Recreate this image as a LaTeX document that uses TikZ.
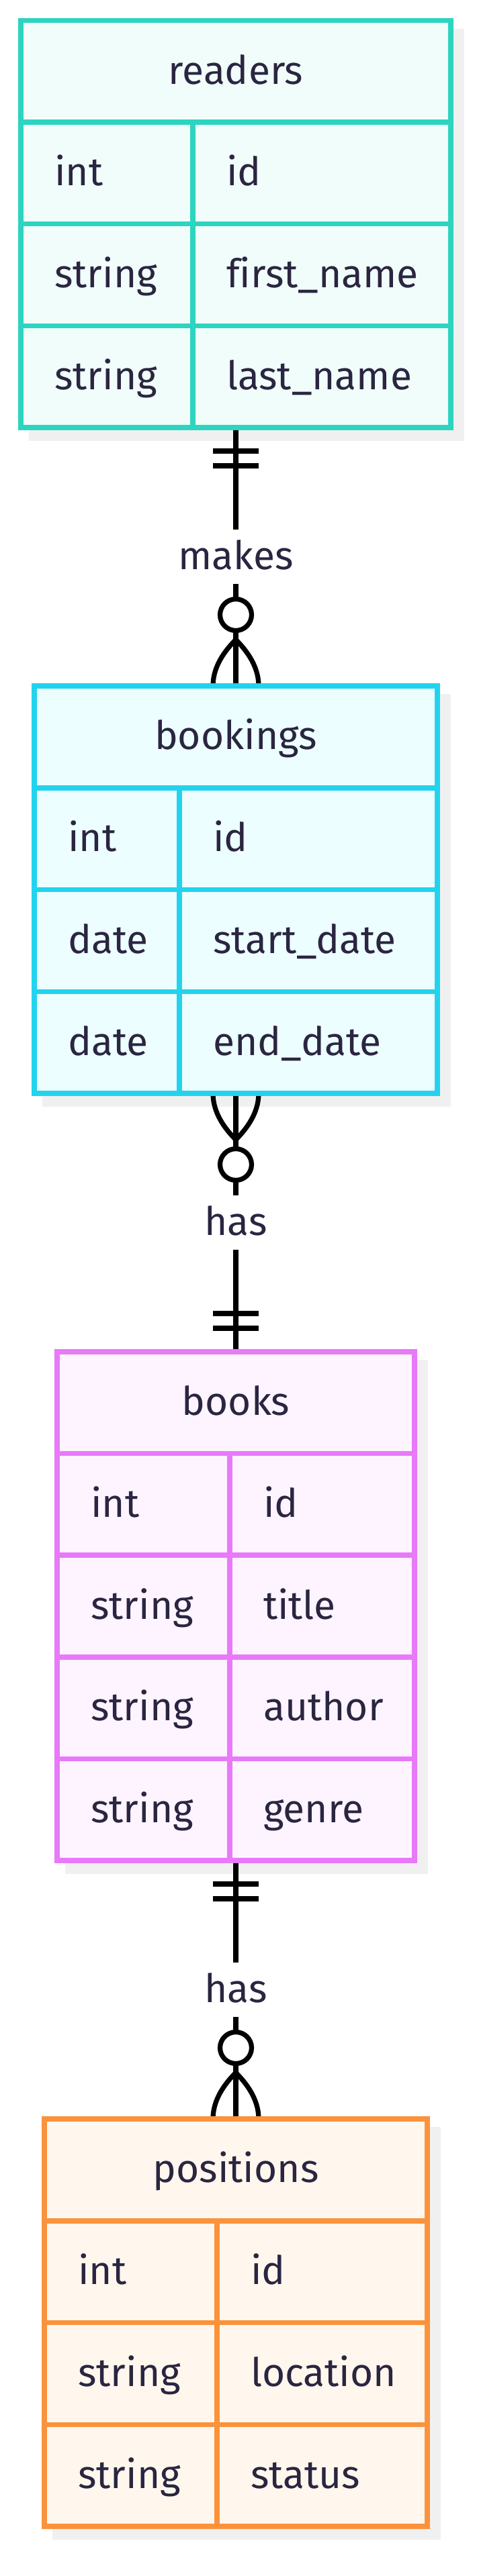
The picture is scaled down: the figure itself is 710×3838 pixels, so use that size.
\documentclass[tikz,border=0pt]{standalone}
\usepackage{fontspec}
\setmainfont[Ligatures=NoCommon]{Fira Sans}
\usetikzlibrary{calc}
\pgfdeclarelayer{bg}
\pgfsetlayers{bg,main}
\definecolor{txt}{HTML}{2A2540}
\definecolor{tealB}{HTML}{2DD4BF}
\definecolor{tealF}{HTML}{F0FDFA}
\definecolor{cyanB}{HTML}{22D3EE}
\definecolor{cyanF}{HTML}{ECFEFF}
\definecolor{fuchB}{HTML}{E879F9}
\definecolor{fuchF}{HTML}{FDF4FF}
\definecolor{oranB}{HTML}{FB923C}
\definecolor{oranF}{HTML}{FFF7ED}
\definecolor{shadowc}{HTML}{F0F0F0}
\newcommand{\erfont}{\fontsize{44pt}{52pt}\selectfont}
\begin{document}
\begin{tikzpicture}[x=0.75pt,y=-0.75pt,
  entity/.style={draw, rectangle, line width=5.6pt, inner sep=0pt, outer sep=0pt},
  grid/.style={line width=5.6pt},
  cell/.style={anchor=base west, inner sep=0pt, font=\erfont, text=txt},
  head/.style={anchor=base, inner sep=0pt, font=\erfont, text=txt},
  rel/.style={line width=5.4pt, black},
  lbl/.style={fill=white, inner sep=0pt, minimum height=60pt, minimum width=10pt, text height=28.5pt, text depth=0pt, font=\erfont, text=txt},
  shadow/.style={fill=shadowc}
]
\useasboundingbox (0,0) rectangle (710,3838);

% ---------- readers ----------
\node[entity, draw=tealB, fill=tealF, minimum width=480pt, minimum height=454.9pt] (readers) at (351,333.75) {};
\draw[grid, tealB] (31,182.1) -- (671,182.1) (31,333.75) -- (671,333.75) (31,485.4) -- (671,485.4) (287,182.1) -- (287,637);
\node[head] (rh) at (351,125.3) {readers};
\node[cell] (rt1) at (81,276.9) {int};
\node[cell] (rn1) at (337,276.9) {id};
\node[cell] (rt2) at (81,428.6) {string};
\node[cell] (rn2) at (337,428.6) {first\_name};
\node[cell] (rt3) at (81,580.2) {string};
\node[cell] (rn3) at (337,580.2) {last\_name};

% ---------- bookings ----------
\node[entity, draw=cyanB, fill=cyanF, minimum width=450pt, minimum height=455.25pt] (bookings) at (351,1325.5) {};
\draw[grid, cyanB] (51,1173.75) -- (651,1173.75) (51,1325.5) -- (651,1325.5) (51,1477.25) -- (651,1477.25) (267,1173.75) -- (267,1629);
\node[head] (bh) at (351,1116.9) {bookings};
\node[cell] (bt1) at (101,1268.6) {int};
\node[cell] (bn1) at (317,1268.6) {id};
\node[cell] (bt2) at (101,1420.4) {date};
\node[cell] (bn2) at (317,1420.4) {start\_date};
\node[cell] (bt3) at (101,1572.1) {date};
\node[cell] (bn3) at (317,1572.1) {end\_date};

% ---------- books ----------
\node[entity, draw=fuchB, fill=fuchF, minimum width=399pt, minimum height=568.5pt] (books) at (351,2393) {};
\draw[grid, fuchB] (85,2165.6) -- (617,2165.6) (85,2317.2) -- (617,2317.2) (85,2468.8) -- (617,2468.8) (85,2620.4) -- (617,2620.4) (342,2165.6) -- (342,2772);
\node[head] (kh) at (351,2108.8) {books};
\node[cell] (kt1) at (135,2260.4) {int};
\node[cell] (kn1) at (392,2260.4) {id};
\node[cell] (kt2) at (135,2412) {string};
\node[cell] (kn2) at (392,2412) {title};
\node[cell] (kt3) at (135,2563.6) {string};
\node[cell] (kn3) at (392,2563.6) {author};
\node[cell] (kt4) at (135,2715.2) {string};
\node[cell] (kn4) at (392,2715.2) {genre};

% ---------- positions ----------
\node[entity, draw=oranB, fill=oranF, minimum width=427.5pt, minimum height=455.25pt] (positions) at (351,3460.5) {};
\draw[grid, oranB] (66,3308.75) -- (636,3308.75) (66,3460.5) -- (636,3460.5) (66,3612.25) -- (636,3612.25) (323,3308.75) -- (323,3764);
\node[head] (ph) at (351,3251.9) {positions};
\node[cell] (pt1) at (116,3403.6) {int};
\node[cell] (pn1) at (373,3403.6) {id};
\node[cell] (pt2) at (116,3555.4) {string};
\node[cell] (pn2) at (373,3555.4) {location};
\node[cell] (pt3) at (116,3707.1) {string};
\node[cell] (pn3) at (373,3707.1) {status};

% ---------- labels ----------
\node[lbl] (l1) at ($(readers.south)!0.5!(bookings.north)$) {makes};
\node[lbl] (l2) at ($(bookings.south)!0.5!(books.north)$) {has};
\node[lbl] (l3) at ($(books.south)!0.5!(positions.north)$) {has};

\begin{pgfonlayer}{bg}
% shadows
\foreach \e in {readers,bookings,books,positions}{
  \fill[shadow] ($(\e.north west)+(12.25,12.25)$) rectangle ($(\e.south east)+(19.75,19.75)$);
}
% connector 1: readers ||--o{ bookings
\draw[rel] (readers.south) -- (l1) -- (bookings.north);
\draw[rel] ($(readers.south)+(-34,35)$) -- ++(68,0);
\draw[rel] ($(readers.south)+(-34,57)$) -- ++(68,0);
\draw[rel] ($(bookings.north)+(0,-69)$) .. controls +(-23,23) and +(0,-23) .. ($(bookings.north)+(-34,0)$);
\draw[rel] ($(bookings.north)+(0,-69)$) .. controls +(23,23) and +(0,-23) .. ($(bookings.north)+(34,0)$);
\draw[rel, fill=white] ($(bookings.north)+(0,-106)$) circle[radius=17.6pt];
% connector 2: bookings }o--|| books
\draw[rel] (bookings.south) -- (l2) -- (books.north);
\draw[rel] ($(bookings.south)+(0,69)$) .. controls +(-23,-23) and +(0,23) .. ($(bookings.south)+(-34,0)$);
\draw[rel] ($(bookings.south)+(0,69)$) .. controls +(23,-23) and +(0,23) .. ($(bookings.south)+(34,0)$);
\draw[rel, fill=white] ($(bookings.south)+(0,106)$) circle[radius=17.6pt];
\draw[rel] ($(books.north)+(-34,-35)$) -- ++(68,0);
\draw[rel] ($(books.north)+(-34,-57)$) -- ++(68,0);
% connector 3: books ||--o{ positions
\draw[rel] (books.south) -- (l3) -- (positions.north);
\draw[rel] ($(books.south)+(-34,35)$) -- ++(68,0);
\draw[rel] ($(books.south)+(-34,57)$) -- ++(68,0);
\draw[rel] ($(positions.north)+(0,-69)$) .. controls +(-23,23) and +(0,-23) .. ($(positions.north)+(-34,0)$);
\draw[rel] ($(positions.north)+(0,-69)$) .. controls +(23,23) and +(0,-23) .. ($(positions.north)+(34,0)$);
\draw[rel, fill=white] ($(positions.north)+(0,-106)$) circle[radius=17.6pt];
\end{pgfonlayer}
\end{tikzpicture}
\end{document}
